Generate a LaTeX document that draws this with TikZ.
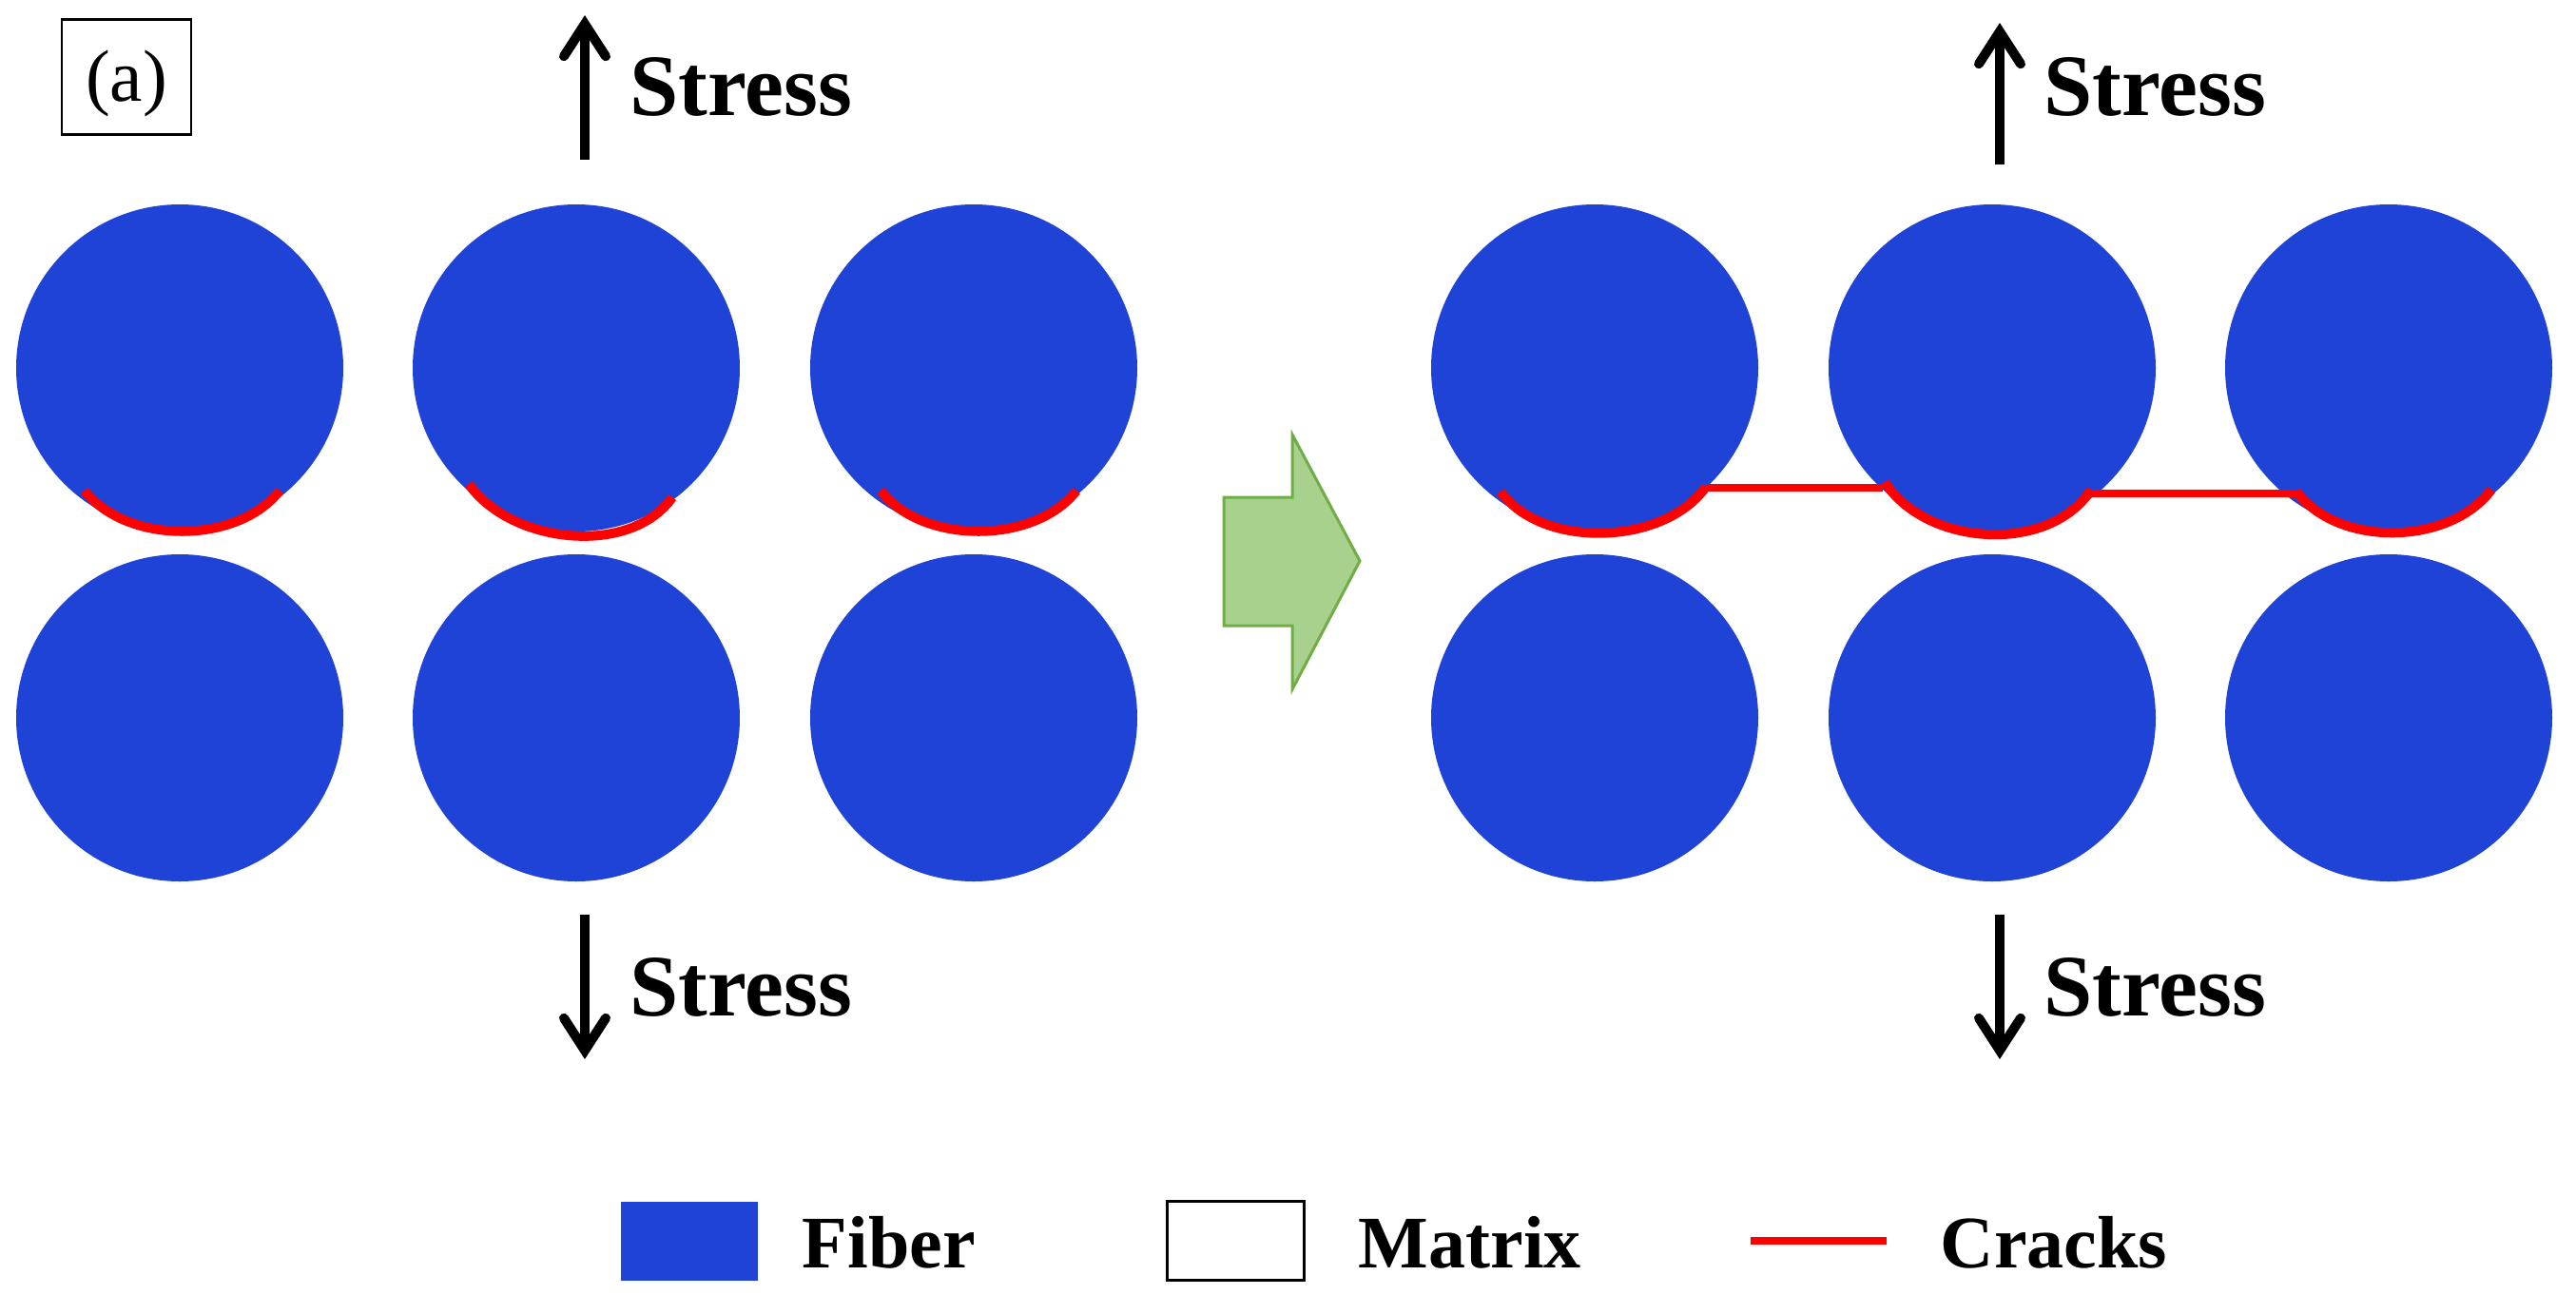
\documentclass[tikz,border=0pt]{standalone}
\usepackage{fontspec}
\setmainfont{Liberation Serif}
\usetikzlibrary{arrows.meta}
\definecolor{fiberblue}{HTML}{1F43D6}
\definecolor{arrowfill}{HTML}{A9D18E}
\definecolor{arrowedge}{HTML}{70AD47}
\tikzset{
	fiber/.style={circle, fill=fiberblue, inner sep=0pt, minimum size=3.44cm},
	crack/.style={draw=red, line width=0.1cm},
	thincrack/.style={draw=red, line width=0.085cm},
	load/.style={line width=0.1cm, -{Straight Barb[length=0.34cm, width=0.44cm, line width=0.1cm, line cap=round, line join=miter]}},
	stresslabel/.style={anchor=base west, inner sep=0pt, font=\fontsize{26.2}{31}\selectfont\bfseries},
	legendlabel/.style={anchor=base west, inner sep=0pt, font=\fontsize{22.2}{27}\selectfont\bfseries},
	legendbox/.style={inner sep=0pt, minimum width=1.44cm, minimum height=0.83cm},
}
\begin{document}
\begin{tikzpicture}
	\useasboundingbox (0, 0) rectangle (27.09, -13.82);

	\node[draw, line width=0.025cm, inner sep=0pt, minimum width=1.36cm, minimum height=1.21cm] (tag) at (1.33, -0.81) {};
	\node[anchor=base, inner sep=0pt, font=\fontsize{22}{26}\selectfont] (taglabel) at (1.33, -1.06) {(a)};

	\node[fiber] (fa1) at (1.89, -3.87) {};
	\node[fiber] (fa2) at (6.06, -3.87) {};
	\node[fiber] (fa3) at (10.24, -3.87) {};
	\node[fiber] (fa4) at (1.89, -7.55) {};
	\node[fiber] (fa5) at (6.06, -7.55) {};
	\node[fiber] (fa6) at (10.24, -7.55) {};
	\node[fiber] (fb1) at (16.77, -3.87) {};
	\node[fiber] (fb2) at (20.95, -3.87) {};
	\node[fiber] (fb3) at (25.12, -3.87) {};
	\node[fiber] (fb4) at (16.77, -7.55) {};
	\node[fiber] (fb5) at (20.95, -7.55) {};
	\node[fiber] (fb6) at (25.12, -7.55) {};

	\draw[crack] (0.89, -5.16) .. controls (1.33, -5.73) and (2.50, -5.73) .. (2.94, -5.16);
	\draw[crack] (4.93, -5.09) .. controls (5.37, -5.72) and (6.63, -5.86) .. (7.07, -5.23);
	\draw[crack] (9.26, -5.16) .. controls (9.70, -5.73) and (10.88, -5.73) .. (11.32, -5.16);

	\coordinate (ca) at (17.94, -5.13);
	\coordinate (cb) at (19.80, -5.13);
	\coordinate (cc) at (21.99, -5.19);
	\coordinate (cd) at (24.15, -5.19);
	\draw[crack] (15.78, -5.17) .. controls (16.22, -5.78) and (17.50, -5.74) .. (17.94, -5.12);
	\draw[crack] (19.82, -5.07) .. controls (20.26, -5.75) and (21.55, -5.83) .. (21.99, -5.15);
	\draw[crack] (24.15, -5.17) .. controls (24.59, -5.76) and (25.76, -5.74) .. (26.20, -5.15);
	\draw[thincrack] (ca) -- (cb);
	\draw[thincrack] (cc) -- (cd);

	\draw[draw=arrowedge, fill=arrowfill, line width=0.03cm, line join=miter] (12.87, -5.23) -- (13.59, -5.23) -- (13.59, -4.57) -- (14.30, -5.90) -- (13.59, -7.25) -- (13.59, -6.58) -- (12.87, -6.58) -- cycle;

	\coordinate (la1) at (6.15, -1.68);
	\coordinate (la2) at (6.15, -0.16);
	\coordinate (lb1) at (6.15, -9.62);
	\coordinate (lb2) at (6.15, -11.14);
	\coordinate (lc1) at (21.03, -1.73);
	\coordinate (lc2) at (21.03, -0.24);
	\coordinate (ld1) at (21.03, -9.62);
	\coordinate (ld2) at (21.03, -11.14);
	\draw[load] (la1) -- (la2);
	\draw[load] (lb1) -- (lb2);
	\draw[load] (lc1) -- (lc2);
	\draw[load] (ld1) -- (ld2);

	\node[stresslabel] (sa) at (6.62, -1.21) {Stress};
	\node[stresslabel] (sb) at (6.62, -10.68) {Stress};
	\node[stresslabel] (sc) at (21.49, -1.21) {Stress};
	\node[stresslabel] (sd) at (21.49, -10.68) {Stress};

	\node[legendbox, fill=fiberblue] (keyfiber) at (7.25, -13.05) {};
	\node[legendbox, draw, line width=0.03cm] (keymatrix) at (12.995, -13.05) {};
	\coordinate (keycracka) at (18.41, -13.05);
	\coordinate (keycrackb) at (19.84, -13.05);
	\draw[thincrack] (keycracka) -- (keycrackb);

	\node[legendlabel] (lblfiber) at (8.43, -13.33) {Fiber};
	\node[legendlabel] (lblmatrix) at (14.28, -13.33) {Matrix};
	\node[legendlabel] (lblcracks) at (20.40, -13.33) {Cracks};
\end{tikzpicture}
\end{document}
